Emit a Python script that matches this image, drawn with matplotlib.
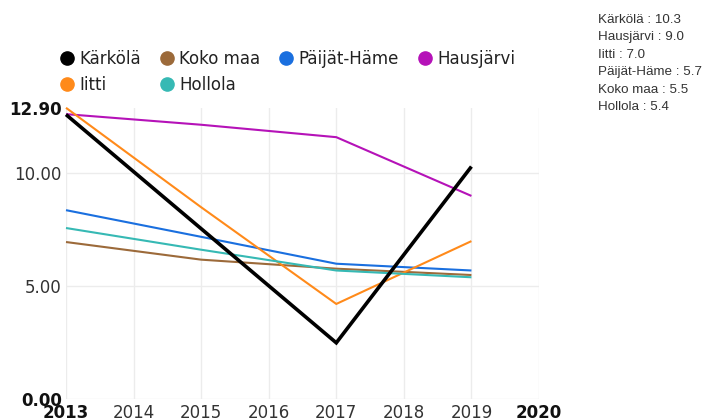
import matplotlib
matplotlib.use("Agg")
import matplotlib.pyplot as plt
from matplotlib.lines import Line2D

years = [2013, 2015, 2017, 2019]
karkola = [12.6, 7.55, 2.5, 10.3]
koko_maa = [6.96, 6.18, 5.78, 5.5]
paijat_hame = [8.37, 7.19, 6.0, 5.7]
hausjarvi = [12.62, 12.15, 11.6, 9.0]
iitti = [12.9, 8.5, 4.22, 7.0]
hollola = [7.58, 6.62, 5.7, 5.4]

names = ["Kärkölä", "Koko maa", "Päijät-Häme", "Hausjärvi", "Iitti", "Hollola"]
series = [karkola, koko_maa, paijat_hame, hausjarvi, iitti, hollola]
colors = ["#000000", "#9c6a3a", "#1a6fdf", "#b512b8", "#ff8a1a", "#36b9b4"]
widths = [2.6, 1.5, 1.5, 1.5, 1.5, 1.5]
zorders = [10, 3, 4, 5, 6, 7]

xticks = [2013, 2014, 2015, 2016, 2017, 2018, 2019, 2020]
yticks = [0, 5, 10, 12.9]
ytick_labels = ["0.00", "5.00", "10.00", "12.90"]

last_values = ["10.3", "9.0", "7.0", "5.7", "5.5", "5.4"]
last_names = ["Kärkölä", "Hausjärvi", "Iitti", "Päijät-Häme", "Koko maa", "Hollola"]

fig = plt.figure(figsize=(7.07, 4.19), dpi=100)
ax = fig.add_axes([66 / 707, 19.7 / 419, 473 / 707, 291.5 / 419])

for name, vals, c, lw, z in zip(names, series, colors, widths, zorders):
    ax.plot(years, vals, color=c, lw=lw, zorder=z, clip_on=False,
            solid_capstyle="butt", solid_joinstyle="miter")

ax.set_xlim(2013, 2020)
ax.set_ylim(0, 12.9)
ax.set_xticks(xticks)
ax.set_xticklabels([str(x) for x in xticks])
ax.set_yticks(yticks)
ax.set_yticklabels(ytick_labels)
for sp in ax.spines.values():
    sp.set_visible(False)
ax.tick_params(axis="both", length=0, labelsize=12, colors="#333333")
ax.tick_params(axis="x", pad=3.6)
ax.tick_params(axis="y", pad=3)
for i, lab in enumerate(ax.get_xticklabels()):
    if i in (0, len(xticks) - 1):
        lab.set_fontweight("bold")
        lab.set_color("#111111")
for i, lab in enumerate(ax.get_yticklabels()):
    if yticks[i] in (0, 12.9):
        lab.set_fontweight("bold")
        lab.set_color("#111111")

for x in xticks:
    ax.axvline(x, color="#ececec", lw=1, zorder=0)
for y in [0, 5, 10]:
    ax.axhline(y, color="#ececec", lw=1, zorder=0)

handle_map = {n: Line2D([], [], marker="o", ls="none", color=c, markersize=9.5)
              for n, c in zip(names, colors)}
order = ["Kärkölä", "Iitti", "Koko maa", "Hollola", "Päijät-Häme", "Hausjärvi"]
leg = fig.legend([handle_map[n] for n in order], order, ncol=4,
                 loc="upper left", bbox_to_anchor=(60 / 707, 1 - 50 / 419),
                 frameon=False, fontsize=12, handlelength=0.8, handletextpad=0.35,
                 columnspacing=1.15, borderpad=0, borderaxespad=0, labelspacing=0.45)
for t in leg.get_texts():
    t.set_color("#222222")

for i, (n, v) in enumerate(zip(last_names, last_values)):
    fig.text(598 / 707, 1 - (20 + i * 17.4) / 419, f"{n} : {v}",
             fontsize=9.6, family="Liberation Sans", color="#333333",
             va="center", ha="left")

fig.savefig("out.png", dpi=100)
